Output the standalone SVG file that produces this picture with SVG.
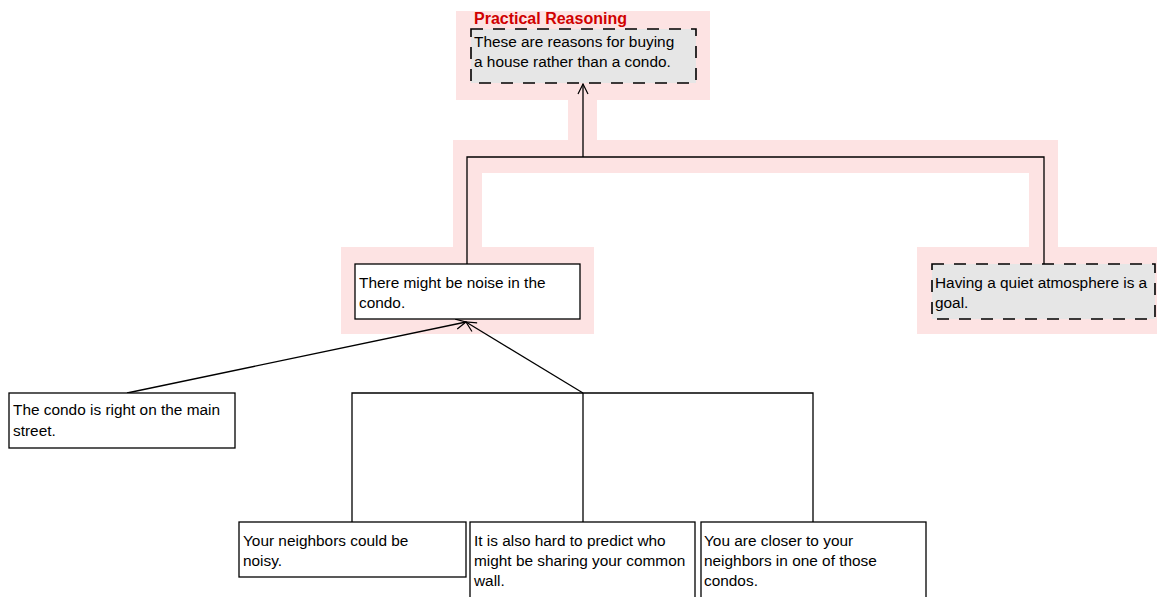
<svg xmlns="http://www.w3.org/2000/svg" width="1157" height="597" viewBox="0 0 1157 597">
<style>
.hl{fill:#fde3e3;stroke:none}
.box{fill:#ffffff;stroke:#000;stroke-width:1.3}
.dbox{fill:#e6e6e6;stroke:#000;stroke-width:1.6;stroke-dasharray:12 10}
.t{font-family:"Liberation Sans",Arial,sans-serif;font-size:15.4px;fill:#000}
.title{font-family:"Liberation Sans",Arial,sans-serif;font-size:16px;font-weight:bold;fill:#d00000}
.ln{fill:none;stroke:#000;stroke-width:1.3}
</style>
<defs>
<marker id="arr" viewBox="0 0 12 12" refX="11" refY="6" markerWidth="12" markerHeight="12" markerUnits="userSpaceOnUse" orient="auto">
<path d="M1,1 L11,6 L1,11" fill="none" stroke="#000" stroke-width="1.2"/>
</marker>
</defs>
<rect width="1157" height="597" fill="#fff"/>
<g id="highlight">
<rect class="hl" x="456" y="11" width="254" height="89"/>
<rect class="hl" x="568" y="100" width="29" height="42"/>
<rect class="hl" x="453" y="140" width="605" height="33"/>
<rect class="hl" x="453" y="173" width="29" height="75"/>
<rect class="hl" x="1029" y="173" width="29" height="75"/>
<rect class="hl" x="341" y="247" width="253" height="87"/>
<rect class="hl" x="917" y="247" width="240" height="87"/>
</g>
<g id="connectors">
<line class="ln" x1="583" y1="157" x2="583" y2="84" marker-end="url(#arr)"/>
<polyline class="ln" points="467,264 467,157 1044,157 1044,264"/>
<line class="ln" x1="127" y1="393" x2="466" y2="322" marker-end="url(#arr)"/>
<line class="ln" x1="583" y1="393" x2="466" y2="322" marker-end="url(#arr)"/>
<polyline class="ln" points="352,522 352,393 813,393 813,522"/>
<line class="ln" x1="583" y1="393" x2="583" y2="522"/>
</g>
<g id="node-practical">
<rect class="dbox" x="471" y="29" width="225" height="54"/>
<text class="title" x="474" y="24">Practical Reasoning</text>
<text class="t" x="474" y="47">These are reasons for buying</text>
<text class="t" x="474" y="67">a house rather than a condo.</text>
</g>
<g id="node-noise">
<rect class="box" x="355" y="264" width="225" height="55"/>
<text class="t" x="359" y="288">There might be noise in the</text>
<text class="t" x="359" y="308">condo.</text>
</g>
<g id="node-goal">
<rect class="dbox" x="932" y="264" width="223" height="55"/>
<text class="t" x="935" y="288">Having a quiet atmosphere is a</text>
<text class="t" x="935" y="308">goal.</text>
</g>
<g id="node-street">
<rect class="box" x="9" y="393" width="226" height="55"/>
<text class="t" x="13" y="415">The condo is right on the main</text>
<text class="t" x="13" y="436">street.</text>
</g>
<g id="node-neighbors">
<rect class="box" x="239" y="522" width="227" height="55"/>
<text class="t" x="243" y="546">Your neighbors could be</text>
<text class="t" x="243" y="566">noisy.</text>
</g>
<g id="node-wall">
<rect class="box" x="470" y="522" width="225" height="80"/>
<text class="t" x="474" y="546">It is also hard to predict who</text>
<text class="t" x="474" y="566">might be sharing your common</text>
<text class="t" x="474" y="586">wall.</text>
</g>
<g id="node-closer">
<rect class="box" x="701" y="522" width="225" height="80"/>
<text class="t" x="704" y="546">You are closer to your</text>
<text class="t" x="704" y="566">neighbors in one of those</text>
<text class="t" x="704" y="586">condos.</text>
</g>
</svg>
